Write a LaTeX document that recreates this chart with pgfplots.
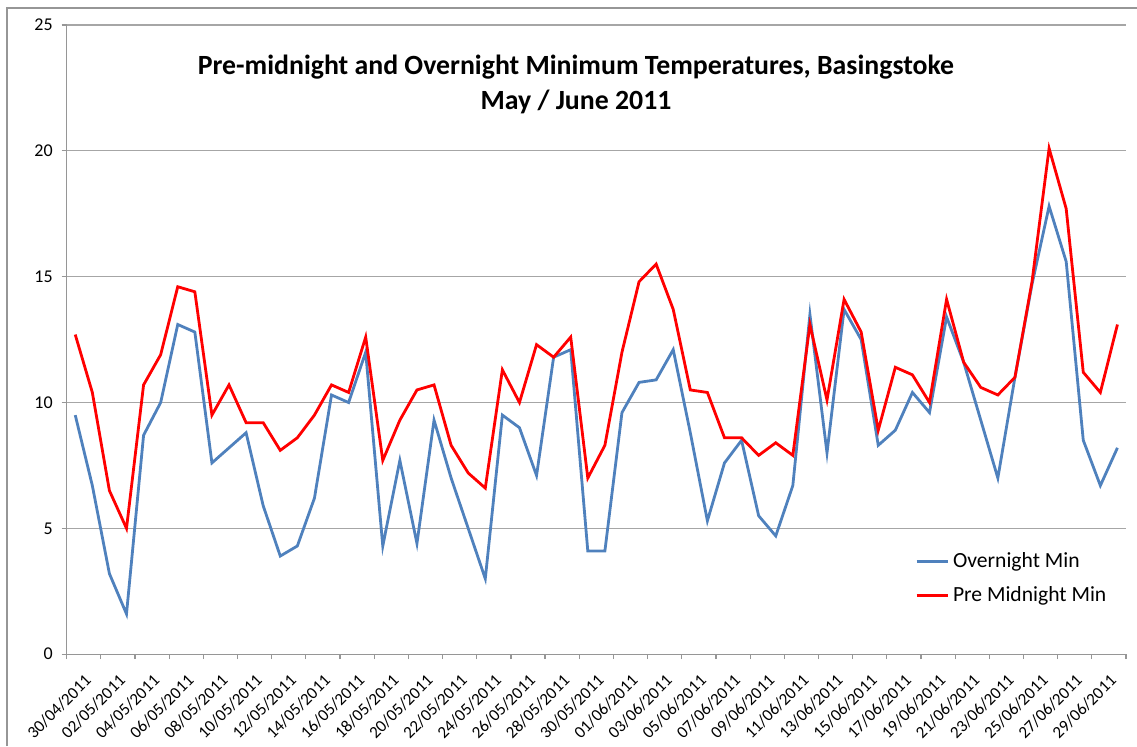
\documentclass[border=0pt]{standalone}
\usepackage{pgfplots}
\pgfplotsset{compat=1.18}
\usepackage{pgfplotstable}
\usepackage{fontspec}
\setmainfont{Carlito}
\definecolor{xlblue}{HTML}{4F81BD}
\definecolor{xlred}{HTML}{FF0000}
\definecolor{gridgray}{HTML}{A6A6A6}
\definecolor{axgray}{HTML}{969696}
\pgfplotstableread{
i blue red
0 9.5 12.7
1 6.7 10.4
2 3.2 6.5
3 1.6 5.0
4 8.7 10.7
5 10.0 11.9
6 13.1 14.6
7 12.8 14.4
8 7.6 9.5
9 8.2 10.7
10 8.8 9.2
11 5.9 9.2
12 3.9 8.1
13 4.3 8.6
14 6.2 9.5
15 10.3 10.7
16 10.0 10.4
17 12.0 12.6
18 4.3 7.7
19 7.7 9.3
20 4.4 10.5
21 9.3 10.7
22 7.0 8.3
23 5.0 7.2
24 3.0 6.6
25 9.5 11.3
26 9.0 10.0
27 7.1 12.3
28 11.8 11.8
29 12.1 12.6
30 4.1 7.0
31 4.1 8.3
32 9.6 12.0
33 10.8 14.8
34 10.9 15.5
35 12.1 13.7
36 8.8 10.5
37 5.3 10.4
38 7.6 8.6
39 8.5 8.6
40 5.5 7.9
41 4.7 8.4
42 6.7 7.9
43 13.5 13.1
44 8.0 10.1
45 13.7 14.1
46 12.5 12.8
47 8.3 8.9
48 8.9 11.4
49 10.4 11.1
50 9.6 10.0
51 13.4 14.1
52 11.6 11.6
53 9.3 10.6
54 7.0 10.3
55 11.0 11.0
56 14.7 14.8
57 17.8 20.1
58 15.6 17.7
59 8.5 11.2
60 6.7 10.4
61 8.2 13.1
}\temps
\begin{document}
\begin{tikzpicture}
\useasboundingbox (0pt,0pt) rectangle (568.5pt,373pt);
\draw[axgray, line width=0.6pt] (3.5pt,0pt) -- (3.5pt,369pt) -- (568.5pt,369pt);
\node[font=\bfseries\fontsize{13.9}{17.5}\selectfont, align=center] at (288pt,331pt) {Pre-midnight and Overnight Minimum Temperatures, Basingstoke\\May / June 2011};
\begin{axis}[
  at={(33.35pt,45.9pt)}, anchor=south west,
  scale only axis, width=529.65pt, height=314.6pt,
  xmin=-0.5, xmax=61.5, ymin=0, ymax=25,
  axis lines=left, axis line style={axgray, line width=0.6pt, -},
  ytick={0,5,...,25},
  ymajorgrids, grid style={gridgray, line width=0.6pt},
  xtick={0,2,...,60},
  xticklabels={30/04/2011,02/05/2011,04/05/2011,06/05/2011,08/05/2011,10/05/2011,12/05/2011,14/05/2011,16/05/2011,18/05/2011,20/05/2011,22/05/2011,24/05/2011,26/05/2011,28/05/2011,30/05/2011,01/06/2011,03/06/2011,05/06/2011,07/06/2011,09/06/2011,11/06/2011,13/06/2011,15/06/2011,17/06/2011,19/06/2011,21/06/2011,23/06/2011,25/06/2011,27/06/2011,29/06/2011},
  minor xtick={-0.5,1.5,...,61.5},
  major x tick style={draw=none},
  minor x tick style={axgray, line width=0.6pt},
  major y tick style={axgray, line width=0.6pt},
  tick align=outside, major tick length=2.5pt, minor tick length=2.5pt,
  /pgf/number format/assume math mode=true,
  xticklabel style={font=\fontsize{8.5}{10}\selectfont, rotate=45, anchor=north east, xshift=1.5pt, yshift=-4.5pt},
  yticklabel style={font=\fontsize{9}{10}\selectfont, xshift=-1pt},
  legend style={draw=none, fill=none, at={(0.795,0.175)}, anchor=north west, font=\fontsize{10.8}{12}\selectfont, row sep=4pt, cells={anchor=west}},
  legend image code/.code={\draw[#1, line width=1.4pt] (0pt,0pt) -- (15.5pt,0pt);},
  clip=false,
]
\addplot[xlblue, line width=1.4pt] table[x=i, y=blue] {\temps};
\addlegendentry{Overnight Min}
\addplot[xlred, line width=1.4pt] table[x=i, y=red] {\temps};
\addlegendentry{Pre Midnight Min}
\end{axis}
\end{tikzpicture}
\end{document}
